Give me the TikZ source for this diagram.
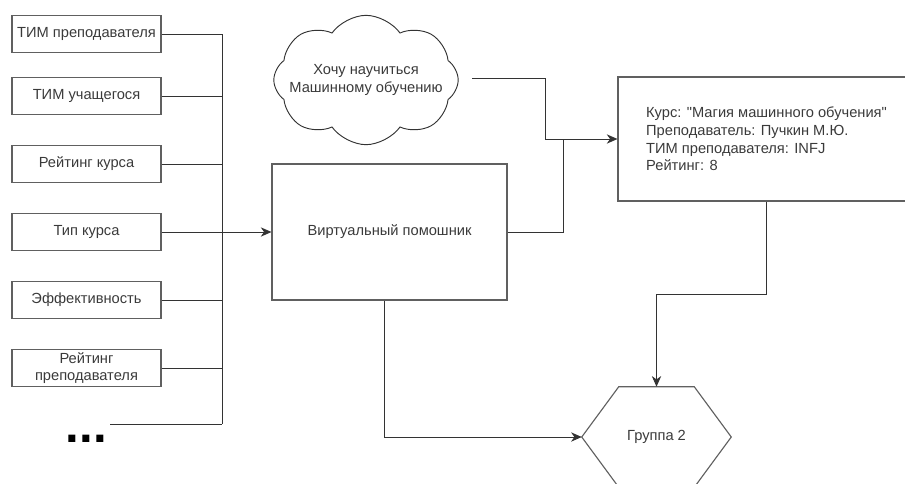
\documentclass[tikz,border=0pt]{standalone}
\usepackage{fontspec}
\setmainfont{Liberation Sans}
\usetikzlibrary{shapes.symbols,arrows.meta,calc}
\definecolor{txt}{HTML}{3A3A3A}
\definecolor{edge}{HTML}{606060}
\definecolor{wire}{HTML}{333333}
\tikzset{
  lbl/.style={text=txt, font=\fontsize{11}{13.2}\selectfont},
  factor/.style={lbl, draw=edge, line width=0.85pt, minimum width=111.75pt,
    minimum height=27.75pt, inner sep=1pt, align=center},
  wire/.style={draw=wire, line width=0.65pt},
  arr/.style={wire, -{Stealth[length=8pt,width=7pt,inset=2.5pt]}},
}

\begin{document}
\begin{tikzpicture}[x=0.75pt,y=-0.75pt]
  \useasboundingbox (0,0) rectangle (905,483);
  \clip (0,0) rectangle (905,483);
  \node[factor] (tp) at (86.5,34) {ТИМ преподавателя};
  \node[factor] (tu) at (86.5,96) {ТИМ учащегося};
  \node[factor] (rk) at (86.5,164) {Рейтинг курса};
  \node[factor] (tk) at (86.5,232) {Тип курса};
  \node[factor] (ef) at (86.5,300) {Эффективность};
  \node[factor] (rp) at (86.5,368) {Рейтинг\\преподавателя};
  \node[font=\fontsize{37}{37}\selectfont\bfseries, inner sep=0pt, anchor=base,
    text=black] (more) at (86.5,442) {...};
  \coordinate (bt) at (222,34);
  \coordinate (bb) at (222,424);
  \coordinate (de) at (110,424);
  \node[factor, minimum width=176.25pt, minimum height=102pt] (va) at (389.5,232)
    {Виртуальный помошник};
  \node[lbl, cloud, cloud puffs=8, cloud puff arc=110, cloud ignores aspect,
    draw=wire, line width=0.7pt, minimum width=110pt, minimum height=97pt,
    align=center, inner ysep=0pt, inner xsep=-7pt] (wish) at (366,80)
    {Хочу научиться\\Машинному обучению};
  \coordinate (wo) at (472,78);
  \node[factor, minimum width=222.75pt, minimum height=93pt, align=left] (info)
    at (766.5,139) {Курс: \textquotedbl Магия машинного обучения\textquotedbl\\
    Преподаватель: Пучкин М.Ю.\\ТИМ преподавателя: INFJ\\Рейтинг: 8};
  \coordinate (join) at (563,139);
  \node[lbl, minimum width=111.75pt, minimum height=75pt] (grp) at (656.5,437) {Группа 2};
  \draw[draw=edge, line width=0.85pt] (grp.west) -- ($(grp.north west)+(37,0)$)
    -- ($(grp.north east)+(-37,0)$) -- (grp.east) -- ($(grp.south east)+(-37,0)$)
    -- ($(grp.south west)+(37,0)$) -- cycle;
  \draw[wire] (bt) -- (bb);
  \foreach \b in {tp,tu,rk,ef,rp}
    \draw[wire] (\b.east) -- (\b.east -| bt);
  \draw[wire] (de) -- (bb);
  \draw[arr] (tk.east) -- (va.west);
  \draw[arr] (va.east) -| (join) -- (info.west);
  \draw[wire] (wo) -- ++(73,0) |- (join);
  \draw[arr] (info.south) -- ++(0,93) -| (grp.north);
  \draw[arr] ([xshift=-3.75pt]va.south) |- (grp.west);
\end{tikzpicture}
\end{document}
